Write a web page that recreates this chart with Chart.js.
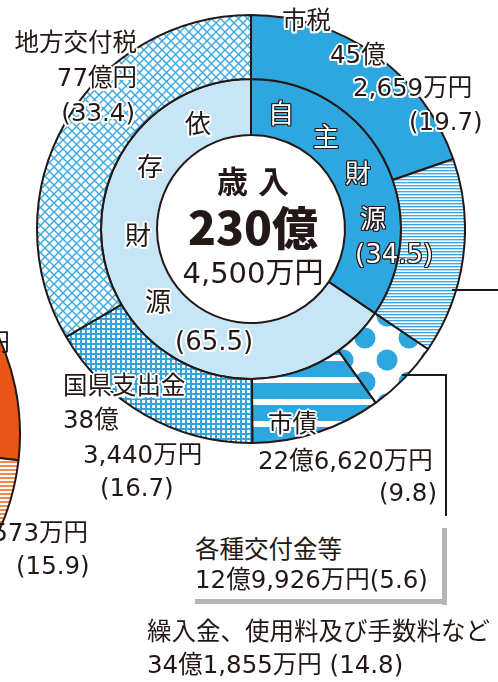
<!DOCTYPE html>
<html>
<head>
<meta charset="utf-8">
<script src="https://cdn.jsdelivr.net/npm/chart.js@4.4.1/dist/chart.umd.min.js"></script>
<style>
body{margin:0;width:498px;height:682px;overflow:hidden;background:#fff;position:relative;
  font-family:"DejaVu Sans","Noto Sans CJK JP",sans-serif;color:#231815}
canvas{position:absolute}
.t{position:absolute;white-space:nowrap;font-size:24.5px;line-height:1}
.h{text-shadow:2px 0 0 #fff,-2px 0 0 #fff,0 2px 0 #fff,0 -2px 0 #fff,1.5px 1.5px 0 #fff,-1.5px -1.5px 0 #fff,1.5px -1.5px 0 #fff,-1.5px 1.5px 0 #fff}
.w{color:#fff;text-shadow:1px 0 0 #231815,-1px 0 0 #231815,0 1px 0 #231815,0 -1px 0 #231815,1px 1px 0 #231815,-1px -1px 0 #231815,1px -1px 0 #231815,-1px 1px 0 #231815}
.k{font-size:26px}
.ln{position:absolute;background:#231815}
.sh{position:absolute;background:#b5b5b5}
</style>
</head>
<body>
<canvas id="left" width="466" height="466" style="left:-445px;top:201px"></canvas>
<canvas id="pie" width="430" height="430" style="left:36px;top:14px"></canvas>

<!-- leader lines -->
<div class="ln" style="left:452px;top:289px;width:46px;height:2px"></div>
<div class="ln" style="left:402px;top:374px;width:45px;height:2px"></div>
<div class="ln" style="left:445px;top:374px;width:2px;height:142px"></div>
<div class="sh" style="left:442px;top:528px;width:5px;height:77px"></div>
<div class="sh" style="left:195px;top:599px;width:252px;height:5px"></div>

<!-- outer labels -->
<div class="t h" style="left:282px;top:9px">市税</div>
<div class="t h" style="left:330px;top:43px">45億</div>
<div class="t h" style="left:353px;top:76px">2,659万円</div>
<div class="t h" style="left:409px;top:110px">(19.7)</div>

<div class="t h" style="right:361px;top:31px">地方交付税</div>
<div class="t h" style="right:361px;top:66px">77億円</div>
<div class="t h" style="right:363px;top:101px">(33.4)</div>

<div class="t h" style="left:63px;top:374px">国県支出金</div>
<div class="t h" style="left:63px;top:408px">38億</div>
<div class="t h" style="left:83px;top:443px">3,440万円</div>
<div class="t h" style="left:100px;top:476px">(16.7)</div>

<div class="t h" style="left:268px;top:412px">市債</div>
<div class="t h" style="left:258px;top:449px">22億6,620万円</div>
<div class="t h" style="right:61px;top:481px">(9.8)</div>

<div class="t" style="left:195px;top:538px">各種交付金等</div>
<div class="t" style="left:195px;top:568px">12億9,926万円(5.6)</div>

<div class="t" style="left:147px;top:620px">繰入金、使用料及び手数料など</div>
<div class="t" style="left:147px;top:653px">34億1,855万円 (14.8)</div>

<!-- inner ring labels -->
<div class="t k h" style="left:185px;top:111px">依</div>
<div class="t k h" style="left:137px;top:154px">存</div>
<div class="t k h" style="left:125px;top:223px">財</div>
<div class="t k h" style="left:145px;top:289px">源</div>
<div class="t k h" style="left:175px;top:328px">(65.5)</div>

<div class="t k w" style="left:268px;top:101px">自</div>
<div class="t k w" style="left:313px;top:124px">主</div>
<div class="t k w" style="left:345px;top:161px">財</div>
<div class="t k w" style="left:360px;top:206px">源</div>
<div class="t k w" style="left:355px;top:241px">(34.5)</div>

<!-- center -->
<div class="t" style="left:203px;width:100px;text-align:center;top:164px;font-family:'Noto Sans CJK JP';font-size:31px;font-weight:700;letter-spacing:10px;text-indent:10px">歳入</div>
<div class="t" style="left:153px;width:200px;text-align:center;top:202px;font-family:'Noto Sans CJK JP';font-size:46px;font-weight:900">230億</div>
<div class="t" style="left:153px;width:200px;text-align:center;top:259px;font-size:29px">4,500万円</div>

<!-- left chart labels (cut off) -->
<div class="t" style="right:488px;top:331px">円</div>
<div class="t" style="right:410px;top:521px">573万円</div>
<div class="t" style="left:16px;top:554px">(15.9)</div>

<script>
var outerLabels = ['市税', '繰入金、使用料及び手数料など', '各種交付金等', '市債', '国県支出金', '地方交付税'];
var outerValues = [19.7, 14.8, 5.6, 9.8, 16.7, 33.4];
var innerLabels = ['自主財源', '依存財源'];
var innerValues = [34.5, 65.5];
// left chart only shows its right edge
var leftLabels = ['orange', 'striped', 'other'];
var leftValues = [20, 15.9, 64.1];

var blue = '#2ea7e0';
var dark = '#231815';

function tile(w, h, draw) {
  var c = document.createElement('canvas');
  c.width = w; c.height = h;
  var g = c.getContext('2d');
  draw(g);
  return c;
}

var ctx = document.getElementById('pie').getContext('2d');

// fine horizontal lines
var pLines = ctx.createPattern(tile(3, 3, function(g) {
  g.fillStyle = '#fff'; g.fillRect(0, 0, 3, 3);
  g.fillStyle = '#3aa8df'; g.fillRect(0, 0, 3, 1);
  g.fillStyle = '#b3def4'; g.fillRect(0, 1, 3, 1);
}), 'repeat');

// polka dots
var pDots = ctx.createPattern(tile(44, 44, function(g) {
  g.fillStyle = '#fff'; g.fillRect(0, 0, 44, 44);
  g.fillStyle = blue;
  [[21, 16], [43, 38]].forEach(function(p) {
    for (var dx = -44; dx <= 44; dx += 44) {
      for (var dy = -44; dy <= 44; dy += 44) {
        g.beginPath(); g.arc(p[0] + dx, p[1] + dy, 10.5, 0, Math.PI * 2); g.fill();
      }
    }
  });
}), 'repeat');

// thick stripes
var pStripes = ctx.createPattern(tile(4, 22, function(g) {
  g.fillStyle = blue; g.fillRect(0, 0, 4, 22);
  g.fillStyle = '#fff'; g.fillRect(0, 11, 4, 6);
}), 'repeat');

// small grid
var pGrid = ctx.createPattern(tile(5, 5, function(g) {
  g.fillStyle = '#33a4dd'; g.fillRect(0, 0, 5, 5);
  g.fillStyle = '#fff'; g.fillRect(1, 1, 3, 3);
}), 'repeat');

// diagonal crosshatch
var pHatch = ctx.createPattern(tile(9, 9, function(g) {
  g.fillStyle = '#fff'; g.fillRect(0, 0, 9, 9);
  g.strokeStyle = '#3dabe1'; g.lineWidth = 1.5;
  for (var o = -9; o <= 9; o += 9) {
    g.beginPath(); g.moveTo(o - 1, -1); g.lineTo(o + 10, 10); g.stroke();
    g.beginPath(); g.moveTo(o + 10, -1); g.lineTo(o - 1, 10); g.stroke();
  }
}), 'repeat');

new Chart(ctx, {
  type: 'doughnut',
  data: {
    labels: outerLabels,
    datasets: [
      {
        label: '歳入',
        data: outerValues,
        backgroundColor: [blue, pLines, pDots, pStripes, pGrid, pHatch],
        borderColor: dark,
        borderWidth: 2,
        weight: 64
      },
      {
        label: '財源',
        data: innerValues,
        backgroundColor: [blue, '#c6e6f8'],
        borderColor: dark,
        borderWidth: 2,
        weight: 56
      }
    ]
  },
  options: {
    responsive: false,
    animation: false,
    cutout: 94,
    events: [],
    layout: { padding: 0 },
    plugins: { legend: { display: false }, tooltip: { enabled: false } }
  }
});

var lctx = document.getElementById('left').getContext('2d');
var pOrange = lctx.createPattern(tile(4, 4, function(g) {
  g.fillStyle = '#fff'; g.fillRect(0, 0, 4, 4);
  g.fillStyle = '#f0894a'; g.fillRect(0, 0, 4, 2);
}), 'repeat');

new Chart(lctx, {
  type: 'doughnut',
  data: {
    labels: leftLabels,
    datasets: [{
      data: leftValues,
      backgroundColor: ['#e85514', pOrange, '#f4b183'],
      borderColor: dark,
      borderWidth: 2
    }]
  },
  options: {
    responsive: false,
    animation: false,
    rotation: 24.5,
    cutout: '40%',
    events: [],
    plugins: { legend: { display: false }, tooltip: { enabled: false } }
  }
});
</script>
</body>
</html>
